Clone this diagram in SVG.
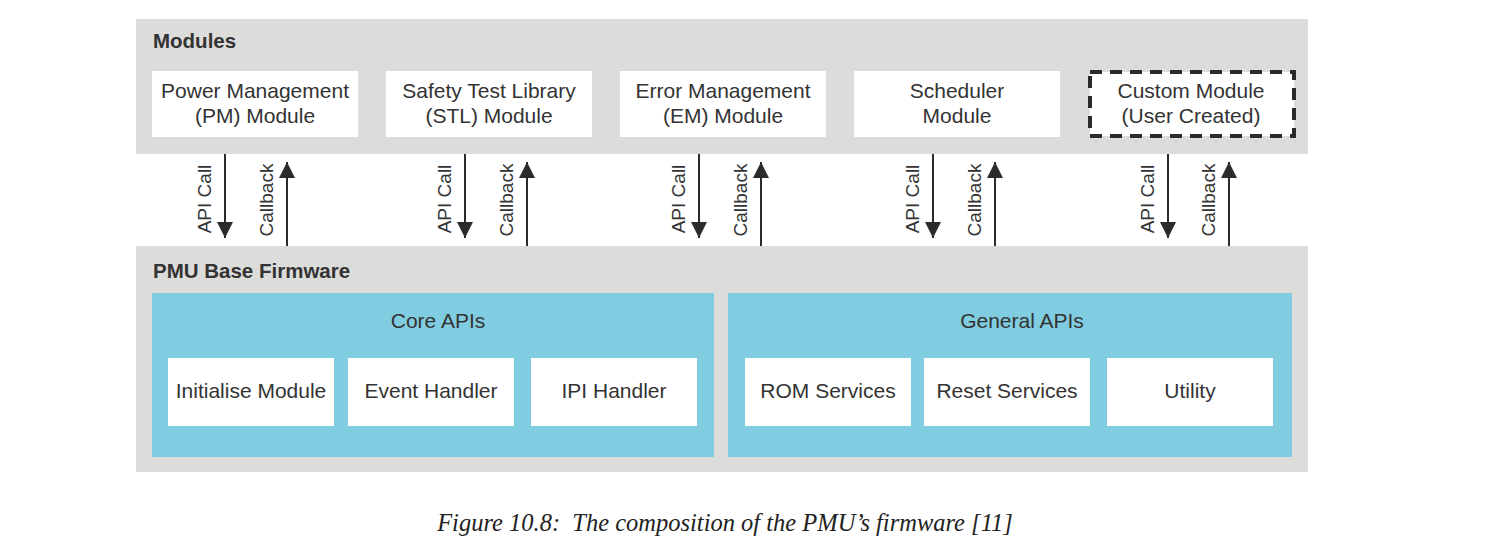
<svg xmlns="http://www.w3.org/2000/svg" width="1498" height="555" viewBox="0 0 1498 555">
<style>
.band{fill:#dcdcdb}
.blue{fill:#80cce0}
.box{fill:#ffffff}
.t{font-family:"Liberation Sans",Arial,sans-serif;font-size:21px;fill:#333;text-anchor:middle}
.h{font-family:"Liberation Sans",Arial,sans-serif;font-size:20.5px;font-weight:bold;fill:#333}
.v{font-family:"Liberation Sans",Arial,sans-serif;font-size:19px;fill:#333;text-anchor:middle}
.ln{stroke:#2b2b2b;stroke-width:2;fill:none}
.cap{font-family:"Liberation Serif","Times New Roman",serif;font-style:italic;font-size:24.5px;fill:#222;text-anchor:middle}
</style>
<defs>
<marker id="ah" markerWidth="9" markerHeight="8" refX="8" refY="4" orient="auto" markerUnits="strokeWidth">
<path d="M0,0 L8,4 L0,8 Z" fill="#2b2b2b"/>
</marker>
</defs>
<rect class="band" x="136" y="19" width="1172" height="135"/>
<text class="h" x="153" y="48">Modules</text>
<rect class="band" x="136" y="246" width="1172" height="226"/>
<text class="h" x="153" y="278">PMU Base Firmware</text>
<g id="pm"><rect class="box" x="152" y="71" width="206" height="66"/><text class="t" x="255" y="98">Power Management</text><text class="t" x="255" y="123">(PM) Module</text></g>
<g id="stl"><rect class="box" x="386" y="71" width="206" height="66"/><text class="t" x="489" y="98">Safety Test Library</text><text class="t" x="489" y="123">(STL) Module</text></g>
<g id="em"><rect class="box" x="620" y="71" width="206" height="66"/><text class="t" x="723" y="98">Error Management</text><text class="t" x="723" y="123">(EM) Module</text></g>
<g id="sched"><rect class="box" x="854" y="71" width="206" height="66"/><text class="t" x="957" y="98">Scheduler</text><text class="t" x="957" y="123">Module</text></g>
<g id="custom"><rect class="box" x="1090" y="72" width="204" height="64" stroke="#2a2a2a" stroke-width="4" stroke-dasharray="12 8"/><text class="t" x="1191" y="98">Custom Module</text><text class="t" x="1191" y="123">(User Created)</text></g>
<g id="core"><rect class="blue" x="152" y="293" width="562" height="164"/><text class="t" x="438" y="328">Core APIs</text>
<g id="init"><rect class="box" x="168" y="358" width="166" height="68"/><text class="t" x="251" y="398">Initialise Module</text></g>
<g id="event"><rect class="box" x="348" y="358" width="166" height="68"/><text class="t" x="431" y="398">Event Handler</text></g>
<g id="ipi"><rect class="box" x="531" y="358" width="166" height="68"/><text class="t" x="614" y="398">IPI Handler</text></g>
</g>
<g id="general"><rect class="blue" x="728" y="293" width="564" height="164"/><text class="t" x="1022" y="328">General APIs</text>
<g id="rom"><rect class="box" x="745" y="358" width="166" height="68"/><text class="t" x="828" y="398">ROM Services</text></g>
<g id="reset"><rect class="box" x="924" y="358" width="166" height="68"/><text class="t" x="1007" y="398">Reset Services</text></g>
<g id="util"><rect class="box" x="1107" y="358" width="166" height="68"/><text class="t" x="1190" y="398">Utility</text></g>
</g>
<g id="connectors">
<line class="ln" x1="225" y1="154" x2="225" y2="238" marker-end="url(#ah)"/>
<line class="ln" x1="287" y1="246" x2="287" y2="162" marker-end="url(#ah)"/>
<line class="ln" x1="465" y1="154" x2="465" y2="238" marker-end="url(#ah)"/>
<line class="ln" x1="527" y1="246" x2="527" y2="162" marker-end="url(#ah)"/>
<line class="ln" x1="699" y1="154" x2="699" y2="238" marker-end="url(#ah)"/>
<line class="ln" x1="761" y1="246" x2="761" y2="162" marker-end="url(#ah)"/>
<line class="ln" x1="933" y1="154" x2="933" y2="238" marker-end="url(#ah)"/>
<line class="ln" x1="995" y1="246" x2="995" y2="162" marker-end="url(#ah)"/>
<line class="ln" x1="1168" y1="154" x2="1168" y2="238" marker-end="url(#ah)"/>
<line class="ln" x1="1229" y1="246" x2="1229" y2="162" marker-end="url(#ah)"/>
<text class="v" transform="translate(211,199) rotate(-90)">API Call</text>
<text class="v" transform="translate(273,200) rotate(-90)">Callback</text>
<text class="v" transform="translate(451,199) rotate(-90)">API Call</text>
<text class="v" transform="translate(513,200) rotate(-90)">Callback</text>
<text class="v" transform="translate(685,199) rotate(-90)">API Call</text>
<text class="v" transform="translate(747,200) rotate(-90)">Callback</text>
<text class="v" transform="translate(919,199) rotate(-90)">API Call</text>
<text class="v" transform="translate(981,200) rotate(-90)">Callback</text>
<text class="v" transform="translate(1154,199) rotate(-90)">API Call</text>
<text class="v" transform="translate(1215,200) rotate(-90)">Callback</text>
</g>
<text class="cap" x="725" y="531" xml:space="preserve">Figure 10.8:  The composition of the PMU’s firmware [11]</text>
</svg>
